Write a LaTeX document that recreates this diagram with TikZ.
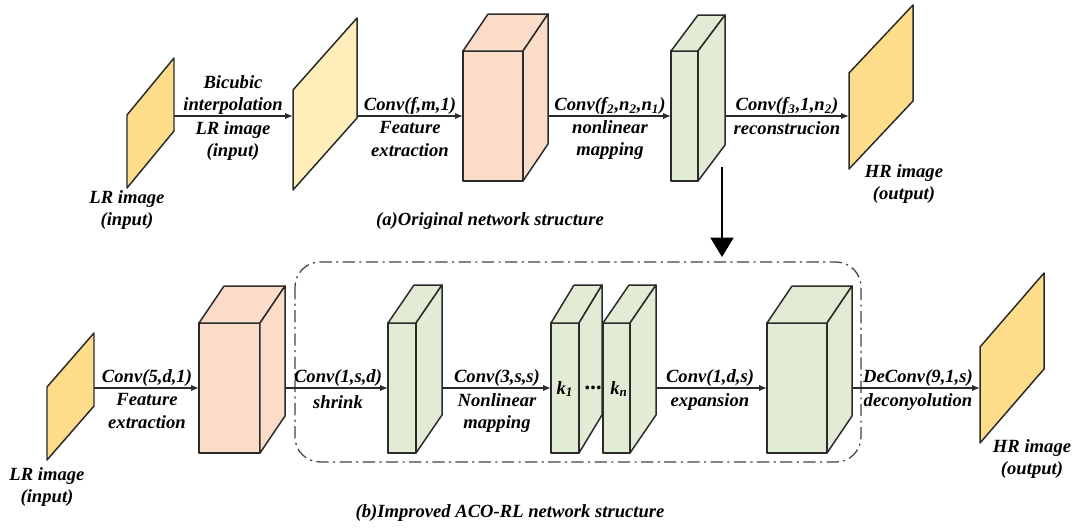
\documentclass[tikz,border=0pt]{standalone}
\usepackage{fontspec}
\setmainfont{Liberation Serif}
\usetikzlibrary{arrows.meta}

\definecolor{imgyellow}{HTML}{FDDC8A}
\definecolor{imgpale}{HTML}{FFEDBA}
\definecolor{convpink}{HTML}{FBDCC8}
\definecolor{convgreen}{HTML}{E2EBD3}
\definecolor{edgegray}{HTML}{2B2B2B}

% image plane: name, x left, y left top, x right, y right top, height, fill, arrow row
\newcommand{\imgplane}[8]{%
  \draw[plane, fill=#7] (#2,#3) -- (#4,#5) -- (#4,#5+#6) -- (#2,#3+#6) -- cycle;
  \coordinate (#1-w) at (#2,#8);
  \coordinate (#1-e) at (#4,#8);
}
% conv block: name, x, y, width, height, depth x, depth up, fill
\newcommand{\convblock}[8]{%
  \draw[block, fill=#8] (#2,#3) rectangle (#2+#4,#3+#5);
  \draw[block, fill=#8] (#2,#3) -- (#2+#6,#3-#7) -- (#2+#4+#6,#3-#7) -- (#2+#4,#3) -- cycle;
  \draw[block, fill=#8] (#2+#4,#3) -- (#2+#4+#6,#3-#7) -- (#2+#4+#6,#3+#5-#7) -- (#2+#4,#3+#5) -- cycle;
  \coordinate (#1-w) at (#2,#3+#5/2);
  \coordinate (#1-e) at (#2+#4+#6,#3+#5/2);
}

\begin{document}
\begin{tikzpicture}[
  x=0.02cm, y=-0.02cm,
  align=center,
  inner sep=0pt,
  font=\fontsize{10.6}{12.8}\selectfont\bfseries\itshape,
  % shapes
  plane/.style={draw=edgegray, line width=0.85pt, line join=round},
  block/.style={draw=edgegray, line width=0.85pt, line join=round},
  groupbox/.style={draw=edgegray!90, line width=0.7pt, rounded corners=0.5cm,
    dash pattern=on 7pt off 2.5pt on 1.2pt off 2.5pt},
  % arrows
  arr/.style={draw=edgegray, line width=0.8pt, -{Latex[length=4.5pt, width=3.6pt]}},
  bigarr/.style={draw=black, line width=1.3pt, -{Triangle[length=11pt, width=13pt]}}
]
  \useasboundingbox (0,0) rectangle (1075,528);

  % ==========================
  % (a) original network
  % ==========================
  \imgplane{lrA}{127}{115}{174}{58}{73}{imgyellow}{116}
  \imgplane{bicA}{293}{90}{357}{18}{100}{imgpale}{116}
  \convblock{pinkA}{463}{51}{60}{130}{25}{37}{convpink}
  \convblock{greenA}{671}{51}{27}{130}{27}{36}{convgreen}
  \imgplane{hrA}{849}{73}{913}{5}{96}{imgyellow}{116}

  \draw[arr] (lrA-e) -- (bicA-w);
  \draw[arr] (bicA-e) -- (pinkA-w);
  \draw[arr] (pinkA-e) -- (greenA-w);
  \draw[arr] (greenA-e) -- (hrA-w);

  \node (lrA-lbl) at (127,210) {LR image\\(input)};
  \node (bic-up) at (233,95) {Bicubic\\interpolation};
  \node (bic-dn) at (233,141) {LR image\\(input)};
  \node (featA-up) at (410,106) {Conv(f,m,1)};
  \node (featA-dn) at (410,139) {Feature\\extraction};
  \node (mapA-up) at (610,106) {Conv(f\textsubscript{2},n\textsubscript{2},n\textsubscript{1})};
  \node (mapA-dn) at (610,140) {nonlinear\\mapping};
  \node (recA-up) at (787,106) {Conv(f\textsubscript{3},1,n\textsubscript{2})};
  \node (recA-dn) at (787,128) {reconstrucion};
  \node (hrA-lbl) at (904,184) {HR image\\(output)};
  \node (capA) at (490,221) {(a)Original network structure};

  % improvement arrow
  \coordinate (down-s) at (722,167);
  \coordinate (down-e) at (722,257);
  \draw[bigarr] (down-s) -- (down-e);

  % ==========================
  % (b) improved network
  % ==========================
  \coordinate (grp-nw) at (295,262);
  \coordinate (grp-se) at (861,462);
  \draw[groupbox] (grp-nw) rectangle (grp-se);

  \imgplane{lrB}{47}{387}{94}{333}{73}{imgyellow}{388}
  \convblock{pinkB}{199}{323}{61}{130}{25}{37}{convpink}
  \convblock{shrB}{388}{323}{28}{130}{26}{38}{convgreen}
  \convblock{k1B}{551}{323}{28}{130}{23}{38}{convgreen}
  \convblock{knB}{603}{323}{27}{130}{26}{38}{convgreen}
  \convblock{expB}{767}{323}{60}{130}{25}{37}{convgreen}
  \imgplane{hrB}{980}{347}{1044}{273}{96}{imgyellow}{388}

  \draw[arr] (lrB-e) -- (pinkB-w);
  \draw[arr] (pinkB-e) -- (shrB-w);
  \draw[arr] (shrB-e) -- (k1B-w);
  \draw[arr] (knB-e) -- (expB-w);
  \draw[arr] (expB-e) -- (hrB-w);

  \node (k1-lbl) at (565,389) {k\textsubscript{1}};
  \node (dots-lbl) at (593,391) {\fontsize{13}{13}\selectfont ···};
  \node (kn-lbl) at (619,389) {k\textsubscript{n}};

  \node (lrB-lbl) at (47,487) {LR image\\(input)};
  \node (featB-up) at (147,378) {Conv(5,d,1)};
  \node (featB-dn) at (147,411) {Feature\\extraction};
  \node (shrB-up) at (338,378) {Conv(1,s,d)};
  \node (shrB-dn) at (338,402) {shrink};
  \node (mapB-up) at (497,378) {Conv(3,s,s)};
  \node (mapB-dn) at (497,413) {Nonlinear\\mapping};
  \node (expB-up) at (710,378) {Conv(1,d,s)};
  \node (expB-dn) at (710,402) {expansion};
  \node (decB-up) at (918,378) {DeConv(9,1,s)};
  \node (decB-dn) at (918,402) {deconyolution};
  \node (hrB-lbl) at (1032,459) {HR image\\(output)};
  \node (capB) at (510,513) {(b)Improved ACO-RL network structure};

\end{tikzpicture}
\end{document}
